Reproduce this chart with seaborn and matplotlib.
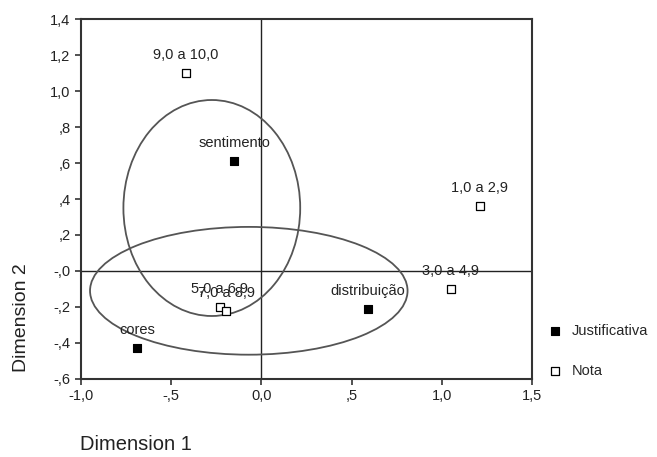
import matplotlib
matplotlib.use('Agg')
import matplotlib.pyplot as plt
from matplotlib.patches import Ellipse
import pandas as pd
import seaborn as sns

# category points (dimension 1, dimension 2)
just_labels = ['sentimento', 'distribuição', 'cores']
just_x = [-0.15, 0.59, -0.69]
just_y = [0.61, -0.21, -0.43]

nota_labels = ['9,0 a 10,0', '1,0 a 2,9', '3,0 a 4,9', '5,0 a 6,9', '7,0 a 8,9']
nota_x = [-0.42, 1.21, 1.05, -0.23, -0.195]
nota_y = [1.10, 0.36, -0.10, -0.20, -0.22]

xticks = [-1.0, -0.5, 0.0, 0.5, 1.0, 1.5]
xtick_labels = ['-1,0', '-,5', '0,0', ',5', '1,0', '1,5']
yticks = [1.4, 1.2, 1.0, 0.8, 0.6, 0.4, 0.2, 0.0, -0.2, -0.4, -0.6]
ytick_labels = ['1,4', '1,2', '1,0', ',8', ',6', ',4', ',2', '-,0', '-,2', '-,4', '-,6']

just = pd.DataFrame({'dim1': just_x, 'dim2': just_y, 'label': just_labels})
nota = pd.DataFrame({'dim1': nota_x, 'dim2': nota_y, 'label': nota_labels})

sns.set_style('white')
plt.rcParams['font.family'] = ['Liberation Sans', 'DejaVu Sans']

fig = plt.figure(figsize=(6.57, 4.57), dpi=100)
ax = fig.add_axes([0.1233, 0.1707, 0.6865, 0.7877])

ax.axhline(0, color='#222222', lw=1.0, zorder=1)
ax.axvline(0, color='#222222', lw=1.0, zorder=1)

# group ellipses
ax.add_patch(Ellipse((-0.275, 0.35), 0.98, 1.20, fill=False, ec='#555555', lw=1.3, zorder=1))
ax.add_patch(Ellipse((-0.07, -0.11), 1.76, 0.71, fill=False, ec='#555555', lw=1.3, zorder=1))

sns.scatterplot(data=just, x='dim1', y='dim2', marker='s', s=30, color='black',
                edgecolor='black', linewidth=0.8, label='Justificativa', ax=ax, zorder=3)
sns.scatterplot(data=nota, x='dim1', y='dim2', marker='s', s=30, facecolor='white',
                edgecolor='black', linewidth=0.9, label='Nota', ax=ax, zorder=3)

for df in (just, nota):
    for _, r in df.iterrows():
        ax.annotate(r['label'], (r['dim1'], r['dim2']), xytext=(0, 13),
                    textcoords='offset points', ha='center', va='center',
                    fontsize=10.5, color='#222222', zorder=4)

ax.set_xlim(-1.0, 1.5)
ax.set_ylim(-0.6, 1.4)
ax.set_xticks(xticks)
ax.set_xticklabels(xtick_labels)
ax.set_yticks(yticks)
ax.set_yticklabels(ytick_labels)
ax.tick_params(axis='both', direction='out', length=4, width=1.2, colors='#333333',
               labelsize=10.5, labelcolor='#222222', bottom=True, left=True)
for sp in ax.spines.values():
    sp.set_color('#333333')
    sp.set_linewidth(1.5)
ax.set_xlabel('')
ax.set_ylabel('')

fig.text(0.122, 1 - 444 / 457, 'Dimension 1', fontsize=14.5, ha='left', va='center', color='#222222')
fig.text(22 / 657, 1 - 318 / 457, 'Dimension 2', fontsize=14, rotation=90,
         ha='center', va='center', color='#222222')

leg = ax.legend(loc='upper left', bbox_to_anchor=(1.005, 0.17), frameon=False,
                fontsize=10.5, labelspacing=1.8, handletextpad=0.2, borderaxespad=0)

fig.savefig('out.png', dpi=100)
